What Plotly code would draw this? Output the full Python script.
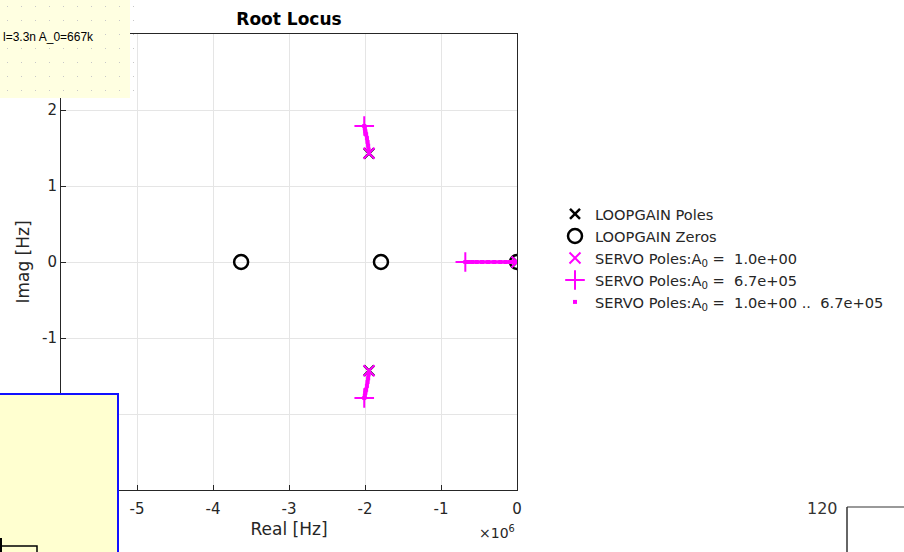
import plotly.graph_objects as go

# ---- data (units: 1e6 Hz) ----
loopgain_poles_re = [0.0, -1.947, -1.947]
loopgain_poles_im = [0.0, 1.43, -1.43]
loopgain_zeros_re = [-3.63, -1.79, 0.0]
loopgain_zeros_im = [0.0, 0.0, 0.0]
servo_a1_re = [0.0, -1.947, -1.947]
servo_a1_im = [0.0, 1.43, -1.43]
servo_amax_re = [-0.68, -2.01, -2.01]
servo_amax_im = [0.0, 1.79, -1.79]
locus_up_re = [-1.947, -1.952, -1.958, -1.966, -1.975, -1.985, -1.995, -2.003, -2.01]
locus_up_im = [1.43, 1.48, 1.53, 1.58, 1.63, 1.68, 1.72, 1.76, 1.79]
locus_dn_re = locus_up_re
locus_dn_im = [-v for v in locus_up_im]
locus_ax_re = [0.0, -0.04, -0.09, -0.15, -0.22, -0.30, -0.38, -0.46, -0.53, -0.59, -0.64, -0.68]
locus_ax_im = [0.0] * len(locus_ax_re)
x_ticks = [-5, -4, -3, -2, -1, 0]      # -6 is hidden under the note box
y_ticks = [-2, -1, 0, 1, 2]            # +/-3 are hidden under the note boxes

MAG = "#ff00ff"
FONT = "DejaVu Sans"

fig = go.Figure()
fig.add_trace(go.Scatter(x=loopgain_poles_re, y=loopgain_poles_im, mode="markers",
                         name="LOOPGAIN Poles",
                         marker=dict(symbol="x-thin-open", size=10, color="black",
                                     line=dict(color="black", width=2.5))))
fig.add_trace(go.Scatter(x=loopgain_zeros_re, y=loopgain_zeros_im, mode="markers",
                         name="LOOPGAIN Zeros",
                         marker=dict(symbol="circle-open", size=14, color="black",
                                     line=dict(color="black", width=2.5))))
fig.add_trace(go.Scatter(x=servo_a1_re, y=servo_a1_im, mode="markers",
                         name="SERVO Poles:A<sub>0</sub> =  1.0e+00",
                         marker=dict(symbol="x-thin-open", size=11, color=MAG,
                                     line=dict(color=MAG, width=2))))
fig.add_trace(go.Scatter(x=servo_amax_re, y=servo_amax_im, mode="markers",
                         name="SERVO Poles:A<sub>0</sub> =  6.7e+05",
                         marker=dict(symbol="cross-thin-open", size=14, color=MAG,
                                     line=dict(color=MAG, width=2))))
# locus lines (no legend)
for xr, yi in [(locus_up_re, locus_up_im), (locus_dn_re, locus_dn_im), (locus_ax_re, locus_ax_im)]:
    fig.add_trace(go.Scatter(x=xr, y=yi, mode="lines", showlegend=False, hoverinfo="skip",
                             line=dict(color=MAG, width=3.5)))
fig.add_trace(go.Scatter(x=locus_up_re + locus_dn_re + locus_ax_re,
                         y=locus_up_im + locus_dn_im + locus_ax_im, mode="markers",
                         name="SERVO Poles:A<sub>0</sub> =  1.0e+00 ..  6.7e+05",
                         marker=dict(symbol="square", size=4, color=MAG)))

axis_common = dict(showgrid=True, gridcolor="#e5e5e5", gridwidth=1, zeroline=False,
                   showline=True, linecolor="#262626", linewidth=1, mirror=True,
                   ticks="inside", ticklen=5, tickcolor="#262626",
                   tickfont=dict(family=FONT, size=15, color="#262626"))

fig.update_layout(
    width=904, height=552,
    margin=dict(l=61, r=387, t=34, b=62),
    paper_bgcolor="white", plot_bgcolor="white",
    font=dict(family=FONT, color="#262626"),
    title=dict(text="<b>Root Locus</b>", x=(289) / 904, xanchor="center", y=1 - 19.5 / 552, yanchor="middle",
               font=dict(family=FONT, size=17, color="black")),
    xaxis=dict(range=[-6, 0], tickvals=x_ticks, ticktext=[str(v) for v in x_ticks],
               ticklabelstandoff=5,
               title=dict(text="Real [Hz]", font=dict(family=FONT, size=17, color="#262626"), standoff=6),
               **axis_common),
    yaxis=dict(range=[-3, 3], tickvals=y_ticks, ticktext=[str(v) for v in y_ticks],
               title=dict(text="Imag [Hz]", font=dict(family=FONT, size=17, color="#262626"), standoff=8),
               **axis_common),
    legend=dict(x=(555 - 61) / 456, y=(263 - 199) / 456 + 0.5, xanchor="left", yanchor="top",
                font=dict(family=FONT, size=14.6, color="#262626"), bgcolor="rgba(0,0,0,0)",
                traceorder="normal", itemsizing="trace"),
    showlegend=True,
)

fig.add_annotation(xref="paper", yref="paper", x=1.0, y=-(532 - 490) / 456, xanchor="right", yanchor="middle",
                   text="×10<sup>6</sup>", showarrow=False, font=dict(family=FONT, size=14, color="#262626"))

def px(xp):
    return (xp - 61) / 456

def py(yp):
    return (490 - yp) / 456

# overlay: top-left yellow note box
fig.add_shape(type="rect", xref="paper", yref="paper", x0=px(-2), x1=px(130), y0=py(98), y1=py(-2),
              fillcolor="#ffffe1", line=dict(width=0), layer="above")
for i in range(10):
    for j in range(7):
        cx, cy = 7 + 14 * i, 6 + 14 * j
        fig.add_shape(type="rect", xref="paper", yref="paper", x0=px(cx), x1=px(cx + 1), y0=py(cy + 1), y1=py(cy),
                      fillcolor="#c8c8c8", line=dict(width=0), layer="above")
fig.add_annotation(xref="paper", yref="paper", x=px(1), y=py(37), xanchor="left", yanchor="middle",
                   text="l=3.3n A_0=667k", showarrow=False, bgcolor="#ffffe1",
                   font=dict(family="Liberation Sans", size=12, color="black"))

# overlay: bottom-left note box
fig.add_shape(type="rect", xref="paper", yref="paper", x0=px(-5), x1=px(118), y0=py(560), y1=py(394),
              fillcolor="#ffffd0", line=dict(color="#1010ff", width=2), layer="above")
fig.add_shape(type="rect", xref="paper", yref="paper", x0=px(1), x1=px(37), y0=py(560), y1=py(546),
              fillcolor="rgba(0,0,0,0)", line=dict(color="black", width=1.5), layer="above")
fig.add_shape(type="line", xref="paper", yref="paper", x0=px(1), x1=px(1), y0=py(552), y1=py(538),
              line=dict(color="black", width=2), layer="above")

# overlay: bottom-right fragment
fig.add_annotation(xref="paper", yref="paper", x=px(840), y=py(508), xanchor="right", yanchor="middle",
                   text="120", showarrow=False, font=dict(family=FONT, size=16, color="#333333"))
fig.add_shape(type="line", xref="paper", yref="paper", x0=px(847), x1=px(910), y0=py(507), y1=py(507),
              line=dict(color="#777777", width=1.5), layer="above")
fig.add_shape(type="line", xref="paper", yref="paper", x0=px(847), x1=px(847), y0=py(507), y1=py(560),
              line=dict(color="#333333", width=1.5), layer="above")

fig.write_html("out.html", config={"displayModeBar": False},
               post_script="document.body.style.margin='0';document.body.style.overflow='hidden';")
